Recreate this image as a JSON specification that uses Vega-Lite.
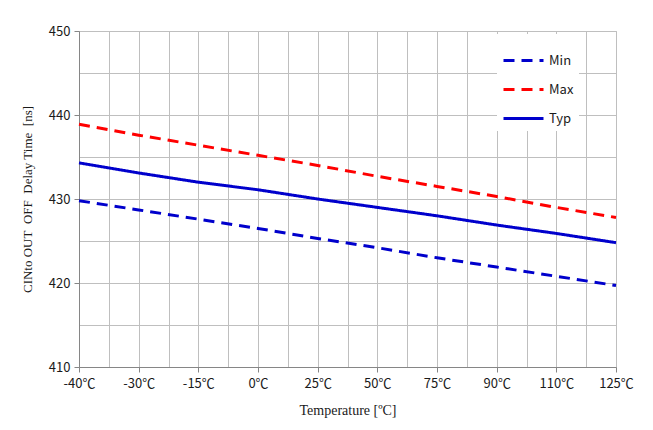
{
  "$schema": "https://vega.github.io/schema/vega-lite/v6.json",
  "width": 537,
  "height": 336,
  "autosize": "none",
  "padding": {"left": 79, "top": 31, "right": 37, "bottom": 63},
  "background": "white",
  "config": {
    "view": {"stroke": "#BFBFBF", "strokeWidth": 1},
    "axis": {
      "gridColor": "#BFBFBF",
      "gridWidth": 1,
      "domainColor": "#868686",
      "tickColor": "#868686",
      "labelFont": "Noto Sans CJK JP",
      "labelFontSize": 13,
      "labelColor": "#1a1a1a",
      "titleFont": "Liberation Serif",
      "titleFontSize": 14,
      "titleFontWeight": "normal",
      "titleColor": "#1a1a1a"
    }
  },
  "data": {
    "values": [
      {"i": 0, "temp": "-40℃", "series": "Min", "v": 429.8},
      {"i": 1, "temp": "-30℃", "series": "Min", "v": 428.7},
      {"i": 2, "temp": "-15℃", "series": "Min", "v": 427.6},
      {"i": 3, "temp": "0℃", "series": "Min", "v": 426.5},
      {"i": 4, "temp": "25℃", "series": "Min", "v": 425.3},
      {"i": 5, "temp": "50℃", "series": "Min", "v": 424.2},
      {"i": 6, "temp": "75℃", "series": "Min", "v": 423.0},
      {"i": 7, "temp": "90℃", "series": "Min", "v": 421.9},
      {"i": 8, "temp": "110℃", "series": "Min", "v": 420.8},
      {"i": 9, "temp": "125℃", "series": "Min", "v": 419.7},
      {"i": 0, "temp": "-40℃", "series": "Max", "v": 438.9},
      {"i": 1, "temp": "-30℃", "series": "Max", "v": 437.6},
      {"i": 2, "temp": "-15℃", "series": "Max", "v": 436.4},
      {"i": 3, "temp": "0℃", "series": "Max", "v": 435.2},
      {"i": 4, "temp": "25℃", "series": "Max", "v": 434.0},
      {"i": 5, "temp": "50℃", "series": "Max", "v": 432.7},
      {"i": 6, "temp": "75℃", "series": "Max", "v": 431.5},
      {"i": 7, "temp": "90℃", "series": "Max", "v": 430.3},
      {"i": 8, "temp": "110℃", "series": "Max", "v": 429.0},
      {"i": 9, "temp": "125℃", "series": "Max", "v": 427.8},
      {"i": 0, "temp": "-40℃", "series": "Typ", "v": 434.3},
      {"i": 1, "temp": "-30℃", "series": "Typ", "v": 433.1},
      {"i": 2, "temp": "-15℃", "series": "Typ", "v": 432.0},
      {"i": 3, "temp": "0℃", "series": "Typ", "v": 431.1},
      {"i": 4, "temp": "25℃", "series": "Typ", "v": 430.0},
      {"i": 5, "temp": "50℃", "series": "Typ", "v": 429.0},
      {"i": 6, "temp": "75℃", "series": "Typ", "v": 428.0},
      {"i": 7, "temp": "90℃", "series": "Typ", "v": 426.9},
      {"i": 8, "temp": "110℃", "series": "Typ", "v": 425.9},
      {"i": 9, "temp": "125℃", "series": "Typ", "v": 424.8}
    ]
  },
  "mark": {"type": "line", "strokeWidth": 3, "strokeCap": "butt"},
  "encoding": {
    "x": {
      "field": "i",
      "type": "quantitative",
      "scale": {"domain": [0, 9], "nice": false, "zero": false},
      "axis": {
        "title": "Temperature [ºC]",
        "titlePadding": 13,
        "values": [0, 0.5, 1, 1.5, 2, 2.5, 3, 3.5, 4, 4.5, 5, 5.5, 6, 6.5, 7, 7.5, 8, 8.5, 9],
        "labelExpr": "datum.value % 1 ? '' : ['-40℃','-30℃','-15℃','0℃','25℃','50℃','75℃','90℃','110℃','125℃'][datum.value]",
        "tickSize": 5,
        "tickOpacity": {"condition": {"test": "datum.value % 1 !== 0", "value": 0}, "value": 1},
        "labelPadding": 5,
        "labelFlush": false,
        "labelOverlap": false
      }
    },
    "y": {
      "field": "v",
      "type": "quantitative",
      "scale": {"domain": [410, 450], "nice": false, "zero": false},
      "axis": {
        "title": "CINto OUT\u00a0\u00a0OFF\u00a0\u00a0Delay Time\u00a0\u00a0[ns]",
        "titleFontSize": 13,
        "titlePadding": 14,
        "values": [410, 415, 420, 425, 430, 435, 440, 445, 450],
        "labelExpr": "datum.value % 10 ? '' : datum.label",
        "tickSize": 5,
        "tickOpacity": {"condition": {"test": "datum.value % 10 !== 0", "value": 0}, "value": 1},
        "labelPadding": 4
      }
    },
    "color": {
      "field": "series",
      "type": "nominal",
      "scale": {"domain": ["Min", "Max", "Typ"], "range": ["#0000CC", "#FF0000", "#0000CC"]},
      "legend": {
        "title": null,
        "orient": "none",
        "legendX": 418,
        "legendY": 3,
        "fillColor": "white",
        "padding": 5,
        "symbolType": "stroke",
        "symbolSize": 1600,
        "symbolStrokeWidth": 3,
        "rowPadding": -15,
        "labelFont": "Noto Sans CJK JP",
        "labelFontSize": 13,
        "labelColor": "#1a1a1a",
        "labelOffset": 4
      }
    },
    "strokeDash": {
      "field": "series",
      "type": "nominal",
      "scale": {"domain": ["Min", "Max", "Typ"], "range": [[11, 7], [11, 7], [1, 0]]},
      "legend": null
    }
  }
}
